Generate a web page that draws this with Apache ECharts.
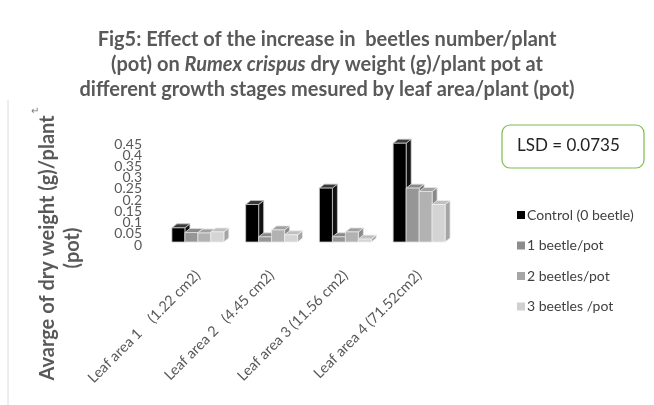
<!DOCTYPE html>
<html lang="en">
<head>
<meta charset="UTF-8">
<title>Fig5</title>
<script src="https://cdn.jsdelivr.net/npm/echarts@6/dist/echarts.min.js"></script>
<style>
  body, html { padding: 0; margin: 0; background: #fff; }
</style>
</head>
<body>
<div id="chart" style="width:654px;height:405px;"></div>
<script>
var categories = ['Leaf area 1    (1.22 cm2)', 'Leaf area 2   (4.45 cm2)', 'Leaf area 3 (11.56 cm2)', 'Leaf area 4 (71.52cm2)'];
var seriesNames = ['Control (0 beetle)', '1 beetle/pot', '2 beetles/pot', '3 beetles /pot'];
var control = [0.063, 0.167, 0.24, 0.44];
var beetle1 = [0.042, 0.023, 0.023, 0.24];
var beetle2 = [0.04, 0.054, 0.045, 0.225];
var beetle3 = [0.045, 0.032, 0.013, 0.167];
var yTicks = { min: 0, max: 0.45, interval: 0.05 };
var yTickLabels = ['0', '0.05', '0.1', '0.15', '0.2', '0.25', '0.3', '0.35', '0.4', '0.45'];

// front / top / side shades per series, legend colour
var shades = [
  { front: '#000000', top: '#3a3a3a', side: '#111111', stroke: '#c8c8c8', legend: '#000000' },
  { front: '#969696', top: '#8a8a8a', side: '#707070', stroke: '#e0e0e0', legend: '#8c8c8c' },
  { front: '#b2b2b2', top: '#a2a2a2', side: '#8a8a8a', stroke: '#e6e6e6', legend: '#a6a6a6' },
  { front: '#d4d4d4', top: '#c0c0c0', side: '#a5a5a5', stroke: '#eeeeee', legend: '#d0d0d0' }
];

function make3dBar(idx) {
  return function (params, api) {
    var ci = api.value(0), v = api.value(1);
    var base = api.coord([ci, 0]);
    var top = api.coord([ci, v]);
    var bw = api.size([1, 0])[0] * 0.176;
    var dx = 5, dy = 4;
    var x = base[0] + (idx - 2) * bw;
    var s = shades[idx];
    return {
      type: 'group',
      children: [{
        type: 'polygon',
        shape: { points: [[x + bw, top[1]], [x + bw + dx, top[1] - dy], [x + bw + dx, base[1] - dy], [x + bw, base[1]]] },
        style: { fill: s.side, stroke: s.stroke, lineWidth: 0.8 }
      }, {
        type: 'polygon',
        shape: { points: [[x, top[1]], [x + dx, top[1] - dy], [x + bw + dx, top[1] - dy], [x + bw, top[1]]] },
        style: { fill: s.top, stroke: s.stroke, lineWidth: 0.8 }
      }, {
        type: 'rect',
        shape: { x: x, y: top[1], width: bw, height: base[1] - top[1] },
        style: { fill: s.front, stroke: s.stroke, lineWidth: 0.8 }
      }]
    };
  };
}

var allValues = [control, beetle1, beetle2, beetle3];
var series = allValues.map(function (vals, i) {
  return {
    name: seriesNames[i],
    type: 'custom',
    renderItem: make3dBar(i),
    itemStyle: { color: shades[i].legend },
    encode: { x: 0, y: 1 },
    yAxisIndex: 0,
    data: vals.map(function (v, ci) { return [ci, v]; })
  };
});

var chart = echarts.init(document.getElementById('chart'), null, { renderer: 'canvas' });
chart.setOption({
  backgroundColor: '#fff',
  animation: false,
  title: {
    left: 'center',
    top: 22,
    text: '{b|Fig5: Effect of the increase in  beetles number/plant}\n{b|(pot) on }{i|Rumex crispus}{b| dry weight (g)/plant pot at}\n{b|different growth stages mesured by leaf area/plant (pot)}',
    textStyle: {
      rich: {
        b: { fontFamily: 'Lato', fontWeight: 'bold', fontSize: 20, color: '#595959', lineHeight: 25 },
        i: { fontFamily: 'Lato', fontWeight: 'bold', fontStyle: 'italic', fontSize: 20, color: '#595959', lineHeight: 25 }
      }
    }
  },
  grid: { left: 161, right: 198, top: 141, bottom: 163 },
  legend: {
    orient: 'vertical',
    left: 512,
    top: 203,
    icon: 'rect',
    itemWidth: 8,
    itemHeight: 8,
    itemGap: 16.5,
    textStyle: { fontFamily: 'Lato', fontSize: 14, color: '#404040', padding: [0, 0, 0, -3] },
    data: seriesNames
  },
  xAxis: {
    type: 'category',
    data: categories,
    axisLine: { show: false },
    axisTick: { show: false },
    axisLabel: {
      rotate: 45,
      margin: 31,
      interval: 0,
      fontFamily: 'Lato',
      fontSize: 14.5,
      color: '#595959'
    }
  },
  yAxis: [{
    type: 'value',
    min: yTicks.min,
    max: yTicks.max,
    interval: yTicks.interval,
    axisLine: { show: false },
    axisTick: { show: false },
    splitLine: { show: false },
    axisLabel: { show: false }
  }, {
    // tick labels in the crowded Excel style (all shown, overlapping)
    type: 'category',
    position: 'left',
    data: yTickLabels,
    boundaryGap: false,
    axisLine: { show: false },
    axisTick: { show: false },
    splitLine: { show: false },
    axisLabel: {
      interval: 0,
      margin: 19,
      verticalAlign: 'top',
      lineHeight: 6,
      fontFamily: 'Lato',
      fontSize: 14,
      color: '#595959'
    }
  }],
  graphic: [{
    type: 'line',
    shape: { x1: 8, y1: 100, x2: 8, y2: 405 },
    style: { stroke: '#dcdcdc', lineWidth: 1 }
  }, {
    type: 'text',
    left: 31,
    top: 106,
    style: { text: '\u21b5', fontSize: 10, fill: '#777' }
  }, {
    type: 'text',
    x: 60,
    y: 248,
    rotation: Math.PI / 2,
    style: {
      text: 'Avarge of dry weight (g)/plant\n(pot)',
      fontFamily: 'Lato',
      fontWeight: 'bold',
      fontSize: 20,
      lineHeight: 25,
      fill: '#595959',
      textAlign: 'center',
      textVerticalAlign: 'middle'
    }
  }, {
    type: 'rect',
    shape: { x: 502, y: 125, width: 142, height: 43, r: 8 },
    style: { fill: '#fff', stroke: '#7fba4c', lineWidth: 1.2 }
  }, {
    type: 'text',
    x: 517,
    y: 146,
    style: {
      text: 'LSD = 0.0735',
      fontFamily: 'Lato',
      fontSize: 17,
      fill: '#222',
      textVerticalAlign: 'middle'
    }
  }],
  series: series
});
</script>
</body>
</html>
